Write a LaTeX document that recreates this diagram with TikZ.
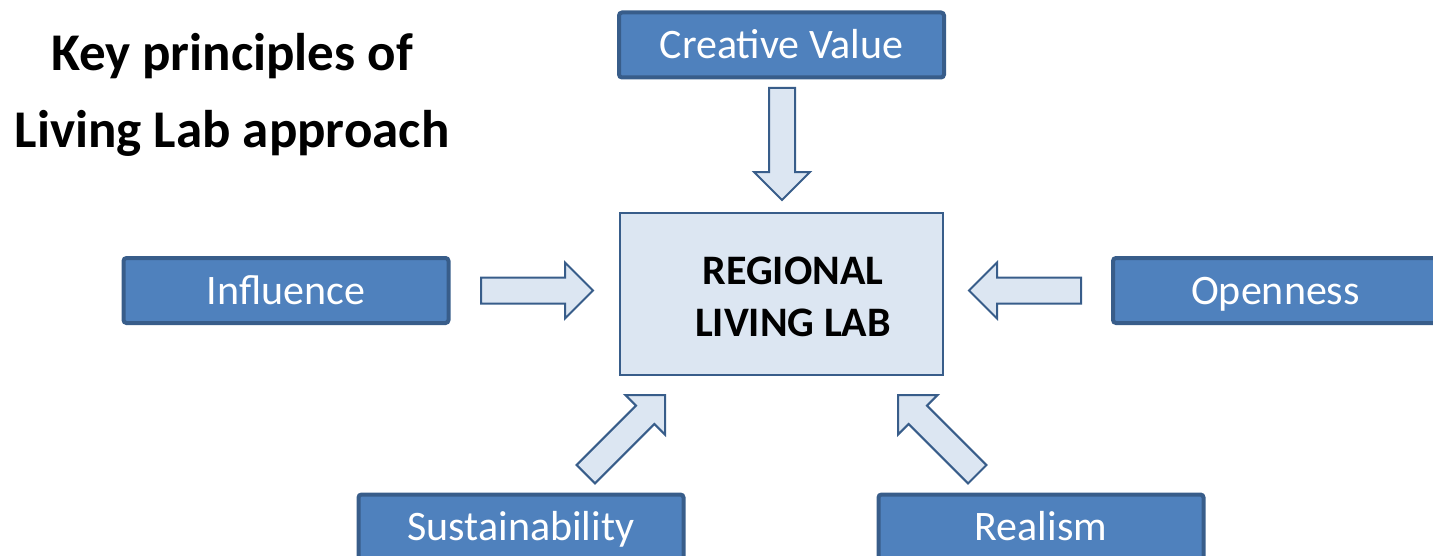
\documentclass[tikz,border=0pt]{standalone}
\usepackage{fontspec}
\setmainfont{Carlito}
\usetikzlibrary{calc}
\definecolor{boxfill}{HTML}{4F81BD}
\definecolor{boxline}{HTML}{385D8A}
\definecolor{labfill}{HTML}{DCE6F2}
\newcommand{\twolines}[2]{\begin{tabular}{c}#1\\#2\end{tabular}}

\begin{document}
\begin{tikzpicture}[x=0.5pt,y=-0.5pt]
    \tikzset{principle/.style={draw=boxline,fill=boxfill,line width=2pt,rounded corners=1.5pt,
               minimum width=162.5pt,minimum height=32.5pt,inner sep=0pt,text=white,
               font=\fontsize{21}{25}\selectfont,text height=13.5pt,text depth=0pt},
             fatarrow/.style={draw=boxline,fill=labfill,line width=1pt,
               to path={-- ($(\tikztostart)!6.5pt!90:(\tikztotarget)$)
                 -- ($(\tikztotarget)!14pt!(\tikztostart)!6.5pt!-90:(\tikztostart)$)
                 -- ($(\tikztotarget)!14pt!(\tikztostart)!14pt!-90:(\tikztostart)$)
                 -- (\tikztotarget)
                 -- ($(\tikztotarget)!14pt!(\tikztostart)!14pt!90:(\tikztostart)$)
                 -- ($(\tikztotarget)!14pt!(\tikztostart)!6.5pt!90:(\tikztostart)$)
                 -- ($(\tikztostart)!6.5pt!-90:(\tikztotarget)$) -- cycle}}}
    \useasboundingbox (0,0) rectangle (1433,556);
    \clip (0,0) rectangle (1433,556);
    \node[font=\bfseries\fontsize{26.5}{38.5}\selectfont] (TTL) at (232,94) {\twolines{Key principles of}{Living Lab approach}};
    \node[draw=boxline,fill=labfill,line width=1pt,minimum width=161.5pt,minimum height=81pt] (RLL) at (781.5,294) {};
    \node[font=\bfseries\fontsize{21}{26}\selectfont] (RLLtxt) at (793,300.5) {\twolines{REGIONAL}{LIVING LAB}};
    \node[principle] (CV) at (781.5,45) {Creative Value};
    \node[principle] (INF) at (286,290.5) {Influence};
    \node[principle] (OPN) at (1275.5,290.5) {Openness};
    \node[principle] (SUS) at (521,527) {Sustainability};
    \node[principle] (REA) at (1041,527) {Realism};
    \coordinate (CVs) at (782,88);      \coordinate (CVt) at (782,200);
    \coordinate (INFs) at (481,290.5);  \coordinate (INFt) at (593,290.5);
    \coordinate (OPNs) at (1081,290.5); \coordinate (OPNt) at (969,290.5);
    \coordinate (SUSs) at (585.8,474.2); \coordinate (SUSt) at (665,395);
    \coordinate (REAs) at (977.2,474.2); \coordinate (REAt) at (898,395);
    \draw[fatarrow] (CVs) to (CVt);
    \draw[fatarrow] (INFs) to (INFt);
    \draw[fatarrow] (OPNs) to (OPNt);
    \draw[fatarrow] (SUSs) to (SUSt);
    \draw[fatarrow] (REAs) to (REAt);
\end{tikzpicture}
\end{document}
